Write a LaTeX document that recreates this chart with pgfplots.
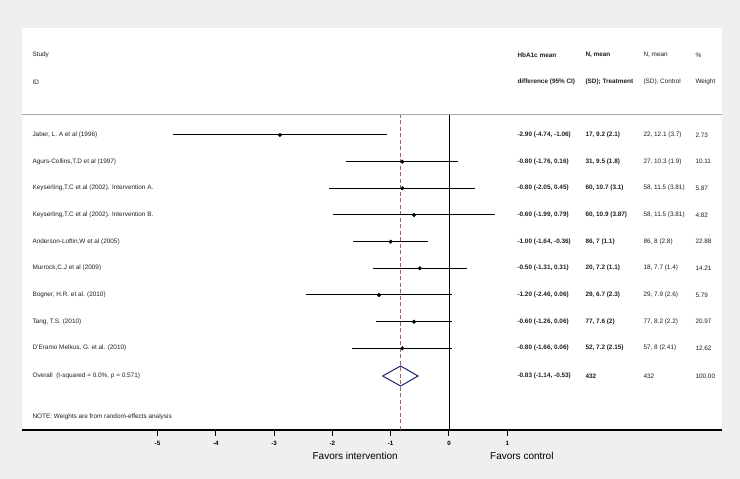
\documentclass[border=0pt]{standalone}
\usepackage{fontspec}
\setmainfont{Liberation Sans}
\usepackage{pgfplots}
\usepackage{pgfplotstable}
\pgfplotsset{compat=1.18}
\definecolor{bgg}{HTML}{EFEFEF}
\definecolor{dashred}{HTML}{A85E5E}
\definecolor{navy}{HTML}{1F2370}
\definecolor{rulegray}{HTML}{A8A8A8}
\definecolor{txt}{HTML}{202020}

\pgfplotstableread{
y     est    lo     hi
344   -2.90  -4.74  -1.06
317.3 -0.80  -1.76  0.16
290.7 -0.80  -2.05  0.45
264   -0.60  -1.99  0.79
237.3 -1.00  -1.64  -0.36
210.7 -0.50  -1.31  0.31
184   -1.20  -2.46  0.06
157.3 -0.60  -1.26  0.06
130.7 -0.80  -1.66  0.06
}\studies

\newcommand{\tf}{\fontsize{6.4}{7.5}\selectfont\color{txt}}
\begin{document}
\begin{tikzpicture}
\fill[bgg] (0,0) rectangle (740pt,479pt);
\begin{axis}[
  at={(22pt,49pt)}, anchor=south west,
  scale only axis, width=700pt, height=402pt,
  xmin=-7.324, xmax=4.683, ymin=49, ymax=451,
  axis background/.style={fill=white},
  axis x line*=bottom, axis y line=none,
  x axis line style={-, line width=1.3pt, black},
  xtick={-5,-4,-3,-2,-1,0,1},
  tick align=outside, major tick length=6pt,
  tick style={black, line width=1pt},
  /pgf/number format/assume math mode=true,
  xticklabel style={font=\fontsize{6.2}{7}\selectfont\bfseries, yshift=-2pt},
  clip=false,
]
% header rule
\addplot[rulegray, line width=1pt] coordinates {(-7.324,364) (4.683,364)};
% reference lines
\addplot[black, line width=0.9pt] coordinates {(0,49) (0,364)};
\addplot[dashred, line width=1.6pt, dash pattern=on 4pt off 2.5pt] coordinates {(-0.83,49) (-0.83,364)};
% study CIs and estimates
\addplot[black, only marks, mark=*, mark size=1.8pt,
  error bars/.cd, x dir=both, x explicit, error mark=none,
  error bar style={line width=1pt, black}]
  table[x=est, y=y,
    x error plus expr=\thisrow{hi}-\thisrow{est},
    x error minus expr=\thisrow{est}-\thisrow{lo}] {\studies};
% overall diamond
\addplot[navy, line width=1pt] coordinates {(-1.14,103) (-0.83,93) (-0.53,103) (-0.83,113) (-1.14,103)};

% header text
\node[anchor=west, font=\tf] at (axis cs:-7.204,424) {Study};
\node[anchor=west, font=\tf] at (axis cs:-7.204,397) {ID};
\node[anchor=west, font=\tf\bfseries] at (axis cs:1.115,424) {HbA1c mean};
\node[anchor=west, font=\tf\bfseries] at (axis cs:1.115,397) {difference (95\% CI)};
\node[anchor=west, font=\tf\bfseries] at (axis cs:2.281,424) {N, mean};
\node[anchor=west, font=\tf\bfseries] at (axis cs:2.281,397) {(SD); Treatment};
\node[anchor=west, font=\tf] at (axis cs:3.276,424) {N, mean};
\node[anchor=west, font=\tf] at (axis cs:3.276,397) {(SD); Control};
\node[anchor=west, font=\tf] at (axis cs:4.168,424) {\%};
\node[anchor=west, font=\tf] at (axis cs:4.168,397) {Weight};

% rows
\node[anchor=west, font=\tf] at (axis cs:-7.204,344) {Jaber, L. A et al (1996)};
\node[anchor=west, font=\tf] at (axis cs:-7.204,317.3) {Agurs-Collins,T.D et al (1997)};
\node[anchor=west, font=\tf] at (axis cs:-7.204,290.7) {Keyserling,T.C et al (2002). Intervention A.};
\node[anchor=west, font=\tf] at (axis cs:-7.204,264) {Keyserling,T.C et al (2002). Intervention B.};
\node[anchor=west, font=\tf] at (axis cs:-7.204,237.3) {Anderson-Loftin,W et al (2005)};
\node[anchor=west, font=\tf] at (axis cs:-7.204,210.7) {Murrock,C.J et al (2009)};
\node[anchor=west, font=\tf] at (axis cs:-7.204,184) {Bogner, H.R. et al. (2010)};
\node[anchor=west, font=\tf] at (axis cs:-7.204,157.3) {Tang, T.S. (2010)};
\node[anchor=west, font=\tf] at (axis cs:-7.204,130.7) {D'Eramo Melkus, G. et al. (2010)};
\node[anchor=west, font=\tf] at (axis cs:-7.204,103) {Overall\ \ (I-squared = 0.0\%, p = 0.571)};
\node[anchor=west, font=\tf] at (axis cs:-7.204,62) {NOTE: Weights are from random-effects analysis};

\node[anchor=west, font=\tf\bfseries] at (axis cs:1.115,344) {-2.90 (-4.74, -1.06)};
\node[anchor=west, font=\tf\bfseries] at (axis cs:1.115,317.3) {-0.80 (-1.76, 0.16)};
\node[anchor=west, font=\tf\bfseries] at (axis cs:1.115,290.7) {-0.80 (-2.05, 0.45)};
\node[anchor=west, font=\tf\bfseries] at (axis cs:1.115,264) {-0.60 (-1.99, 0.79)};
\node[anchor=west, font=\tf\bfseries] at (axis cs:1.115,237.3) {-1.00 (-1.64, -0.36)};
\node[anchor=west, font=\tf\bfseries] at (axis cs:1.115,210.7) {-0.50 (-1.31, 0.31)};
\node[anchor=west, font=\tf\bfseries] at (axis cs:1.115,184) {-1.20 (-2.46, 0.06)};
\node[anchor=west, font=\tf\bfseries] at (axis cs:1.115,157.3) {-0.60 (-1.26, 0.06)};
\node[anchor=west, font=\tf\bfseries] at (axis cs:1.115,130.7) {-0.80 (-1.66, 0.06)};
\node[anchor=west, font=\tf\bfseries] at (axis cs:1.115,103) {-0.83 (-1.14, -0.53)};

\node[anchor=west, font=\tf\bfseries] at (axis cs:2.281,344) {17, 9.2 (2.1)};
\node[anchor=west, font=\tf\bfseries] at (axis cs:2.281,317.3) {31, 9.5 (1.8)};
\node[anchor=west, font=\tf\bfseries] at (axis cs:2.281,290.7) {60, 10.7 (3.1)};
\node[anchor=west, font=\tf\bfseries] at (axis cs:2.281,264) {60, 10.9 (3.87)};
\node[anchor=west, font=\tf\bfseries] at (axis cs:2.281,237.3) {86, 7 (1.1)};
\node[anchor=west, font=\tf\bfseries] at (axis cs:2.281,210.7) {20, 7.2 (1.1)};
\node[anchor=west, font=\tf\bfseries] at (axis cs:2.281,184) {29, 6.7 (2.3)};
\node[anchor=west, font=\tf\bfseries] at (axis cs:2.281,157.3) {77, 7.6 (2)};
\node[anchor=west, font=\tf\bfseries] at (axis cs:2.281,130.7) {52, 7.2 (2.15)};
\node[anchor=west, font=\tf\bfseries] at (axis cs:2.281,103) {432};

\node[anchor=west, font=\tf] at (axis cs:3.276,344) {22, 12.1 (3.7)};
\node[anchor=west, font=\tf] at (axis cs:3.276,317.3) {27, 10.3 (1.9)};
\node[anchor=west, font=\tf] at (axis cs:3.276,290.7) {58, 11.5 (3.81)};
\node[anchor=west, font=\tf] at (axis cs:3.276,264) {58, 11.5 (3.81)};
\node[anchor=west, font=\tf] at (axis cs:3.276,237.3) {86, 8 (2.8)};
\node[anchor=west, font=\tf] at (axis cs:3.276,210.7) {18, 7.7 (1.4)};
\node[anchor=west, font=\tf] at (axis cs:3.276,184) {29, 7.9 (2.6)};
\node[anchor=west, font=\tf] at (axis cs:3.276,157.3) {77, 8.2 (2.2)};
\node[anchor=west, font=\tf] at (axis cs:3.276,130.7) {57, 8 (2.41)};
\node[anchor=west, font=\tf] at (axis cs:3.276,103) {432};

\node[anchor=west, font=\tf] at (axis cs:4.168,344) {2.73};
\node[anchor=west, font=\tf] at (axis cs:4.168,317.3) {10.11};
\node[anchor=west, font=\tf] at (axis cs:4.168,290.7) {5.87};
\node[anchor=west, font=\tf] at (axis cs:4.168,264) {4.82};
\node[anchor=west, font=\tf] at (axis cs:4.168,237.3) {22.88};
\node[anchor=west, font=\tf] at (axis cs:4.168,210.7) {14.21};
\node[anchor=west, font=\tf] at (axis cs:4.168,184) {5.79};
\node[anchor=west, font=\tf] at (axis cs:4.168,157.3) {20.97};
\node[anchor=west, font=\tf] at (axis cs:4.168,130.7) {12.62};
\node[anchor=west, font=\tf] at (axis cs:4.168,103) {100.00};

% axis captions
\node[font=\fontsize{10}{12}\selectfont] at (axis cs:-1.61,23) {Favors intervention};
\node[font=\fontsize{10}{12}\selectfont] at (axis cs:1.25,23) {Favors control};
\end{axis}
\end{tikzpicture}
\end{document}
